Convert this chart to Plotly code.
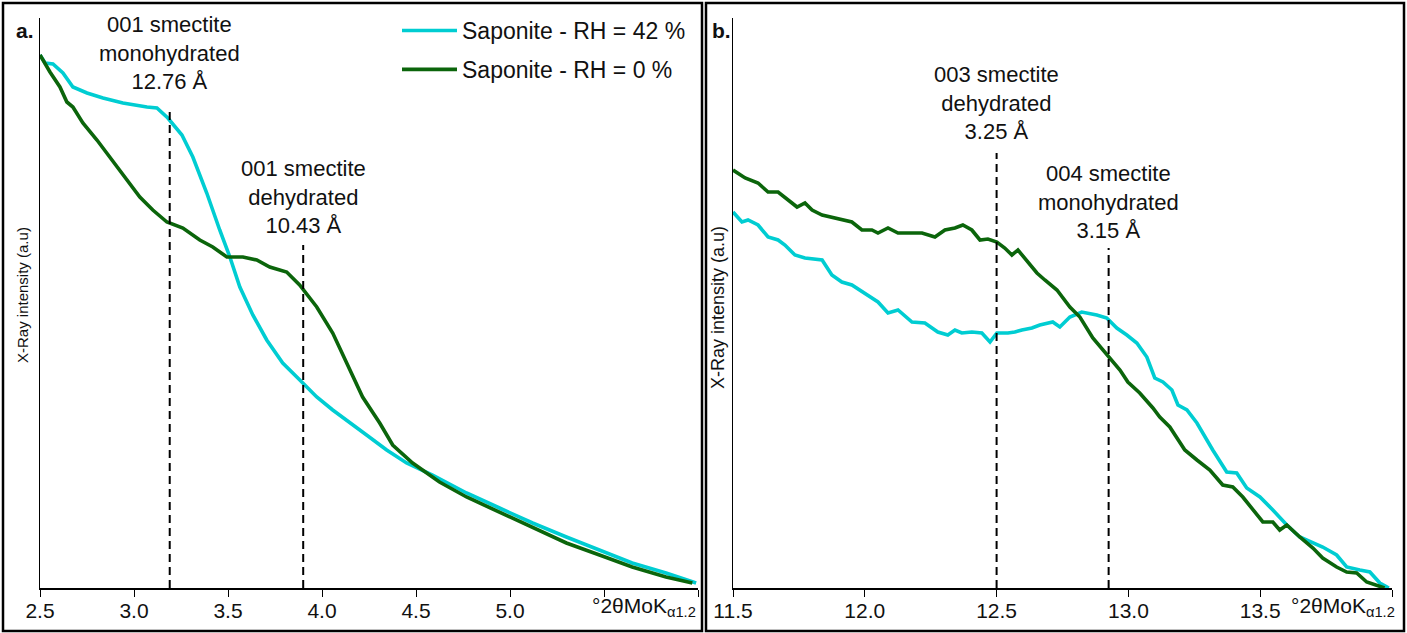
import plotly.graph_objects as go

W, H = 1407, 633

# ---------------- Data ----------------
# Panel a: 2theta (deg) vs intensity (a.u.)
a_rh42_x = [2.50, 2.527, 2.569, 2.622, 2.675, 2.75, 2.835, 2.941, 3.069, 3.122, 3.18, 3.255,
            3.313, 3.387, 3.456, 3.51, 3.563, 3.632, 3.706, 3.791, 3.882, 3.972, 4.057, 4.147,
            4.237, 4.344, 4.45, 4.588, 4.769, 4.944, 5.12, 5.30, 5.476, 5.65, 5.83, 5.99]
a_rh42_y = [533, 525, 524, 515, 501, 495, 490, 485, 481, 480, 470, 453,
            431, 395, 358, 331, 301, 273, 248, 225, 208, 191, 178, 165,
            153, 138, 125, 113, 95, 80, 65, 51, 38, 25, 15, 5]

a_rh0_x = [2.50, 2.553, 2.606, 2.643, 2.675, 2.728, 2.803, 2.872, 2.962, 3.031, 3.10, 3.175,
           3.26, 3.35, 3.419, 3.494, 3.579, 3.653, 3.722, 3.812, 3.881, 3.972, 4.057, 4.131,
           4.216, 4.307, 4.376, 4.482, 4.625, 4.769, 4.944, 5.12, 5.30, 5.476, 5.65, 5.83, 5.97]
a_rh0_y = [533, 516, 501, 486, 481, 465, 448, 431, 408, 391, 378, 366,
           360, 348, 341, 331, 331, 328, 321, 316, 303, 281, 255, 225,
           191, 165, 143, 125, 106, 91, 76, 60, 45, 33, 21, 11, 5]

# Panel b
b_rh42_x = [11.5, 11.534, 11.557, 11.595, 11.633, 11.671, 11.697, 11.735, 11.773, 11.838, 11.875,
            11.913, 11.951, 12.0, 12.05, 12.088, 12.126, 12.179, 12.228, 12.277, 12.315, 12.342,
            12.368, 12.406, 12.444, 12.475, 12.501, 12.543, 12.569, 12.596, 12.634, 12.664, 12.713,
            12.74, 12.778, 12.823, 12.88, 12.918, 12.956, 12.994, 13.032, 13.07, 13.10, 13.131,
            13.165, 13.188, 13.222, 13.26, 13.29, 13.32, 13.373, 13.411, 13.449, 13.499, 13.548,
            13.601, 13.65, 13.70, 13.737, 13.79, 13.828, 13.878, 13.916, 13.954, 13.988]
b_rh42_y = [376, 366, 368, 363, 351, 348, 343, 333, 330, 328, 313,
            306, 303, 295, 286, 275, 278, 266, 265, 256, 253, 258,
            255, 256, 255, 246, 255, 255, 256, 258, 260, 263, 266,
            261, 271, 276, 273, 270, 260, 253, 245, 231, 210, 206,
            198, 183, 178, 165, 151, 138, 116, 115, 100, 91, 78,
            63, 51, 45, 41, 33, 21, 18, 16, 5, 0]

b_rh0_x = [11.5, 11.546, 11.595, 11.633, 11.671, 11.709, 11.743, 11.773, 11.80, 11.838, 11.887,
           11.951, 11.989, 12.027, 12.05, 12.088, 12.126, 12.179, 12.217, 12.266, 12.304, 12.342,
           12.372, 12.406, 12.437, 12.467, 12.501, 12.531, 12.558, 12.581, 12.619, 12.653, 12.683,
           12.729, 12.778, 12.816, 12.865, 12.918, 12.968, 12.998, 13.043, 13.093, 13.119, 13.157,
           13.214, 13.26, 13.309, 13.358, 13.396, 13.434, 13.472, 13.51, 13.548, 13.574, 13.601,
           13.65, 13.70, 13.737, 13.79, 13.828, 13.866, 13.904, 13.972]
b_rh0_y = [418, 410, 405, 396, 396, 388, 381, 385, 378, 373, 370,
           366, 358, 358, 355, 360, 355, 355, 355, 351, 358, 360,
           363, 358, 348, 349, 346, 340, 333, 338, 326, 315, 308,
           298, 281, 271, 250, 233, 218, 206, 195, 180, 171, 161,
           138, 128, 118, 103, 101, 91, 78, 66, 66, 58, 63,
           51, 40, 30, 21, 16, 15, 6, 0]

a_ticks = [2.5, 3.0, 3.5, 4.0, 4.5, 5.0]
a_ticktext = ["2.5", "3.0", "3.5", "4.0", "4.5", "5.0"]
b_ticks = [11.5, 12.0, 12.5, 13.0, 13.5]
b_ticktext = ["11.5", "12.0", "12.5", "13.0", "13.5"]
x_unit = "°2θMoK<sub>α1.2</sub>"

# Reflection markers
a_peaks = [3.19, 3.90]
a_peak_tops = [480, 343]
a_peak_labels = ["001 smectite<br>monohydrated<br>12.76 Å", "001 smectite<br>dehydrated<br>10.43 Å"]
a_label_y = [535, 391]
b_peaks = [12.50, 12.925]
b_peak_tops = [435, 340]
b_peak_labels = ["003 smectite<br>dehydrated<br>3.25 Å", "004 smectite<br>monohydrated<br>3.15 Å"]
b_label_y = [485, 386]

CYAN = "#00CDD2"
GREEN = "#0B650B"
FONT = "Liberation Sans, Arial, sans-serif"


def px_x(p):
    return p / W


def px_y(p):
    return 1 - p / H


fig = go.Figure()
fig.add_trace(go.Scatter(x=a_rh42_x, y=a_rh42_y, mode="lines", name="Saponite - RH = 42 %",
                         line=dict(color=CYAN, width=3.6), xaxis="x", yaxis="y",
                         legendgroup="g1"))
fig.add_trace(go.Scatter(x=a_rh0_x, y=a_rh0_y, mode="lines", name="Saponite - RH = 0 %",
                         line=dict(color=GREEN, width=3.6), xaxis="x", yaxis="y",
                         legendgroup="g2"))
fig.add_trace(go.Scatter(x=b_rh42_x, y=b_rh42_y, mode="lines", name="Saponite - RH = 42 %",
                         line=dict(color=CYAN, width=3.6), xaxis="x2", yaxis="y2",
                         showlegend=False, legendgroup="g1"))
fig.add_trace(go.Scatter(x=b_rh0_x, y=b_rh0_y, mode="lines", name="Saponite - RH = 0 %",
                         line=dict(color=GREEN, width=3.6), xaxis="x2", yaxis="y2",
                         showlegend=False, legendgroup="g2"))

xcommon = dict(showgrid=False, zeroline=False, showline=True, linecolor="black", linewidth=1.6,
               ticks="outside", ticklen=7, tickwidth=1.4, tickcolor="black",
               tickfont=dict(family=FONT, size=21, color="#111"), tickmode="array",
               ticklabelstandoff=-4,
               minor=dict(ticks="outside", ticklen=7, tickwidth=1.4, tickcolor="black",
                          dtick=0.5, showgrid=False))
ycommon = dict(showgrid=False, zeroline=False, showline=True, linecolor="black", linewidth=1.4,
               showticklabels=False, ticks="", range=[0, 570])

fig.update_layout(
    width=W, height=H,
    margin=dict(l=0, r=0, t=0, b=0, autoexpand=False),
    paper_bgcolor="white", plot_bgcolor="white",
    xaxis=dict(domain=[px_x(40), px_x(698)], range=[2.5, 6.0], tickvals=a_ticks,
               ticktext=a_ticktext, anchor="y", **xcommon),
    yaxis=dict(domain=[px_y(588), px_y(18)], anchor="x", **ycommon),
    xaxis2=dict(domain=[px_x(733), px_x(1392)], range=[11.5, 14.0], tickvals=b_ticks,
                ticktext=b_ticktext, anchor="y2", **xcommon),
    yaxis2=dict(domain=[px_y(588), px_y(18)], anchor="x2", **ycommon),
    showlegend=True,
    legend=dict(x=px_x(397), y=px_y(9), xanchor="left", yanchor="top",
                font=dict(family=FONT, size=23, color="#111"),
                bgcolor="rgba(0,0,0,0)", tracegroupgap=6, traceorder="grouped",
                itemwidth=55),
)

shapes = []
# Panel borders
for x0, x1 in [(3, 702), (706, 1404)]:
    shapes.append(dict(type="rect", xref="paper", yref="paper",
                       x0=px_x(x0), x1=px_x(x1), y0=px_y(631), y1=px_y(3),
                       line=dict(color="black", width=2.5), fillcolor="rgba(0,0,0,0)"))
# dashed reflection lines
for xv, top in zip(a_peaks, a_peak_tops):
    shapes.append(dict(type="line", xref="x", yref="y", x0=xv, x1=xv, y0=0, y1=top,
                       line=dict(color="black", width=2, dash="8px,5px")))
for xv, top in zip(b_peaks, b_peak_tops):
    shapes.append(dict(type="line", xref="x2", yref="y2", x0=xv, x1=xv, y0=0, y1=top,
                       line=dict(color="black", width=2, dash="8px,5px")))
fig.update_layout(shapes=shapes)

ann = []
for xv, yv, t in zip(a_peaks, a_label_y, a_peak_labels):
    ann.append(dict(x=xv, y=yv, xref="x", yref="y", text=t, showarrow=False,
                    xanchor="center", yanchor="middle",
                    font=dict(family=FONT, size=22, color="#111")))
for xv, yv, t in zip(b_peaks, b_label_y, b_peak_labels):
    ann.append(dict(x=xv, y=yv, xref="x2", yref="y2", text=t, showarrow=False,
                    xanchor="center", yanchor="middle",
                    font=dict(family=FONT, size=22, color="#111")))
# panel letters
ann.append(dict(x=px_x(25), y=px_y(31), xref="paper", yref="paper", text="<b>a.</b>",
                showarrow=False, xanchor="center", yanchor="middle",
                font=dict(family=FONT, size=21, color="#111")))
ann.append(dict(x=px_x(721), y=px_y(31), xref="paper", yref="paper", text="<b>b.</b>",
                showarrow=False, xanchor="center", yanchor="middle",
                font=dict(family=FONT, size=21, color="#111")))
# y axis titles
ann.append(dict(x=px_x(22), y=px_y(295), xref="paper", yref="paper",
                text="X-Ray intensity (a.u)", textangle=-90, showarrow=False,
                xanchor="center", yanchor="middle",
                font=dict(family=FONT, size=15, color="#111")))
ann.append(dict(x=px_x(718), y=px_y(307), xref="paper", yref="paper",
                text="X-Ray intensity (a.u)", textangle=-90, showarrow=False,
                xanchor="center", yanchor="middle",
                font=dict(family=FONT, size=18, color="#111")))
# x unit labels
for xr in [698, 1397]:
    ann.append(dict(x=px_x(xr), y=px_y(607), xref="paper", yref="paper",
                    text=x_unit, showarrow=False,
                    xanchor="right", yanchor="middle",
                    font=dict(family=FONT, size=21, color="#111")))
fig.update_layout(annotations=ann)

fig.write_html("out.html",
               config={"displayModeBar": False},
               post_script="document.body.style.margin='0';document.body.style.overflow='hidden';")
